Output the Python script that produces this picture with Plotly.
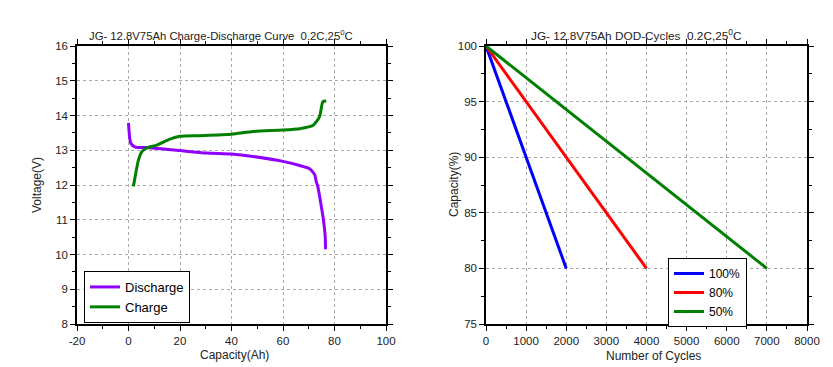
import plotly.graph_objects as go

# Left chart: charge / discharge curves
dis_cap = [0, 0.9, 2.6, 7.1, 20, 30.3, 40, 48.4, 60, 66.5, 70.3, 72.3, 72.9, 73.5, 74.8, 75.7, 76.4, 76.5]
dis_v = [13.79, 13.2, 13.09, 13.08, 12.99, 12.92, 12.89, 12.82, 12.68, 12.56, 12.47, 12.30, 12.1, 11.96, 11.42, 11.0, 10.51, 10.15]

chg_cap = [1.9, 2.6, 3.9, 5.2, 7.1, 11, 16.1, 20, 27.7, 40, 48.4, 60, 66.5, 71.6, 74.2, 75.5, 76.8]
chg_v = [11.96, 12.25, 12.73, 12.96, 13.07, 13.15, 13.32, 13.40, 13.42, 13.46, 13.54, 13.58, 13.62, 13.71, 13.97, 14.40, 14.42]
cap_ticks = [-20, 0, 20, 40, 60, 80, 100]
cap_tick_text = ["-20", "0", "20", "40", "60", "80", "100"]

# Right chart: DOD cycles
cyc_100 = [0, 2000]
cyc_80 = [0, 4000]
cyc_50 = [0, 7000]
cap_pct = [100, 80]

FONT = "Liberation Sans, Arial, sans-serif"
PURPLE = "#8F00FF"
GREEN = "#008000"

OFF = 8  # page body margin
W, H = 833 - OFF, 367 - OFF
ML, MR, MT, MB = 12, 12, 12, 12
PW, PH = W - ML - MR, H - MT - MB


def px(xp):
    return (xp - OFF - ML) / PW


def py(yp):
    return 1 - (yp - OFF - MT) / PH


fig = go.Figure()
fig.add_trace(go.Scatter(x=dis_cap, y=dis_v, mode="lines", name="Discharge",
                         line=dict(color=PURPLE, width=3, shape="spline", smoothing=0.6),
                         xaxis="x", yaxis="y", legend="legend"))
fig.add_trace(go.Scatter(x=chg_cap, y=chg_v, mode="lines", name="Charge",
                         line=dict(color=GREEN, width=3, shape="spline", smoothing=0.6),
                         xaxis="x", yaxis="y", legend="legend"))
fig.add_trace(go.Scatter(x=cyc_100, y=cap_pct, mode="lines", name="100%",
                         line=dict(color="#0000FF", width=3), xaxis="x2", yaxis="y2", legend="legend2"))
fig.add_trace(go.Scatter(x=cyc_80, y=cap_pct, mode="lines", name="80%",
                         line=dict(color="#FF0000", width=3), xaxis="x2", yaxis="y2", legend="legend2"))
fig.add_trace(go.Scatter(x=cyc_50, y=cap_pct, mode="lines", name="50%",
                         line=dict(color=GREEN, width=3), xaxis="x2", yaxis="y2", legend="legend2"))

ydom = [py(324), py(46)]
common = dict(showline=True, linecolor="black", linewidth=1.5, mirror="ticks",
              ticks="outside", ticklen=5, tickcolor="black", tickwidth=1,
              showgrid=True, gridcolor="#aaaaaa", griddash="dot", gridwidth=1,
              zeroline=False, automargin=False,
              tickfont=dict(family=FONT, size=11.5, color="#222"))

fig.update_layout(
    width=W, height=H,
    margin=dict(l=ML, r=MR, t=MT, b=MB, autoexpand=False),
    paper_bgcolor="white", plot_bgcolor="white",
    font=dict(family=FONT, color="#222"),
    xaxis=dict(domain=[px(77), px(386)], range=[-20, 100],
               tickmode="array", tickvals=cap_ticks, ticktext=cap_tick_text,
               minor=dict(dtick=10, tick0=0, ticks="outside", ticklen=3, tickcolor="black", showgrid=False),
               anchor="y", **common),
    yaxis=dict(domain=ydom, range=[8, 16], dtick=1,
               minor=dict(dtick=0.5, ticks="outside", ticklen=3, tickcolor="black", showgrid=False),
               anchor="x", **common),
    xaxis2=dict(domain=[px(486), px(807)], range=[0, 8000], dtick=1000,
                minor=dict(dtick=500, ticks="outside", ticklen=3, tickcolor="black", showgrid=False),
                anchor="y2", **common),
    yaxis2=dict(domain=ydom, range=[75, 100], dtick=5,
                minor=dict(dtick=2.5, ticks="outside", ticklen=3, tickcolor="black", showgrid=False),
                anchor="x2", **common),
    legend=dict(x=px(84), y=py(271), xanchor="left", yanchor="top",
                bordercolor="black", borderwidth=1, bgcolor="white",
                font=dict(family=FONT, size=13, color="black"),
                tracegroupgap=0, itemwidth=30),
    legend2=dict(x=px(668), y=py(258), xanchor="left", yanchor="top",
                 bordercolor="black", borderwidth=1, bgcolor="white",
                 font=dict(family=FONT, size=12, color="black"),
                 tracegroupgap=0, itemwidth=30),
    showlegend=True,
)

ann = [
    dict(text="JG- 12.8V75Ah Charge-Discharge Curve  0.2C,25<sup>0</sup>C", x=221, y=35, s=11.3),
    dict(text="JG- 12.8V75Ah DOD-Cycles  0.2C,25<sup>0</sup>C", x=636, y=35, s=11.8),
    dict(text="Capacity(Ah)", x=234, y=355, s=12),
    dict(text="Number of Cycles", x=653, y=356, s=12),
]
for a in ann:
    fig.add_annotation(text=a["text"], x=px(a["x"]), y=py(a["y"]), xref="paper", yref="paper",
                       showarrow=False, xanchor="center", yanchor="middle",
                       font=dict(family=FONT, size=a["s"], color="#222"))
fig.add_annotation(text="Voltage(V)", x=px(37), y=py(185), xref="paper", yref="paper",
                   showarrow=False, textangle=-90, xanchor="center", yanchor="middle",
                   font=dict(family=FONT, size=12, color="#222"))
fig.add_annotation(text="Capacity(%)", x=px(454), y=py(185), xref="paper", yref="paper",
                   showarrow=False, textangle=-90, xanchor="center", yanchor="middle",
                   font=dict(family=FONT, size=12, color="#222"))

fig.write_html("out.html")
